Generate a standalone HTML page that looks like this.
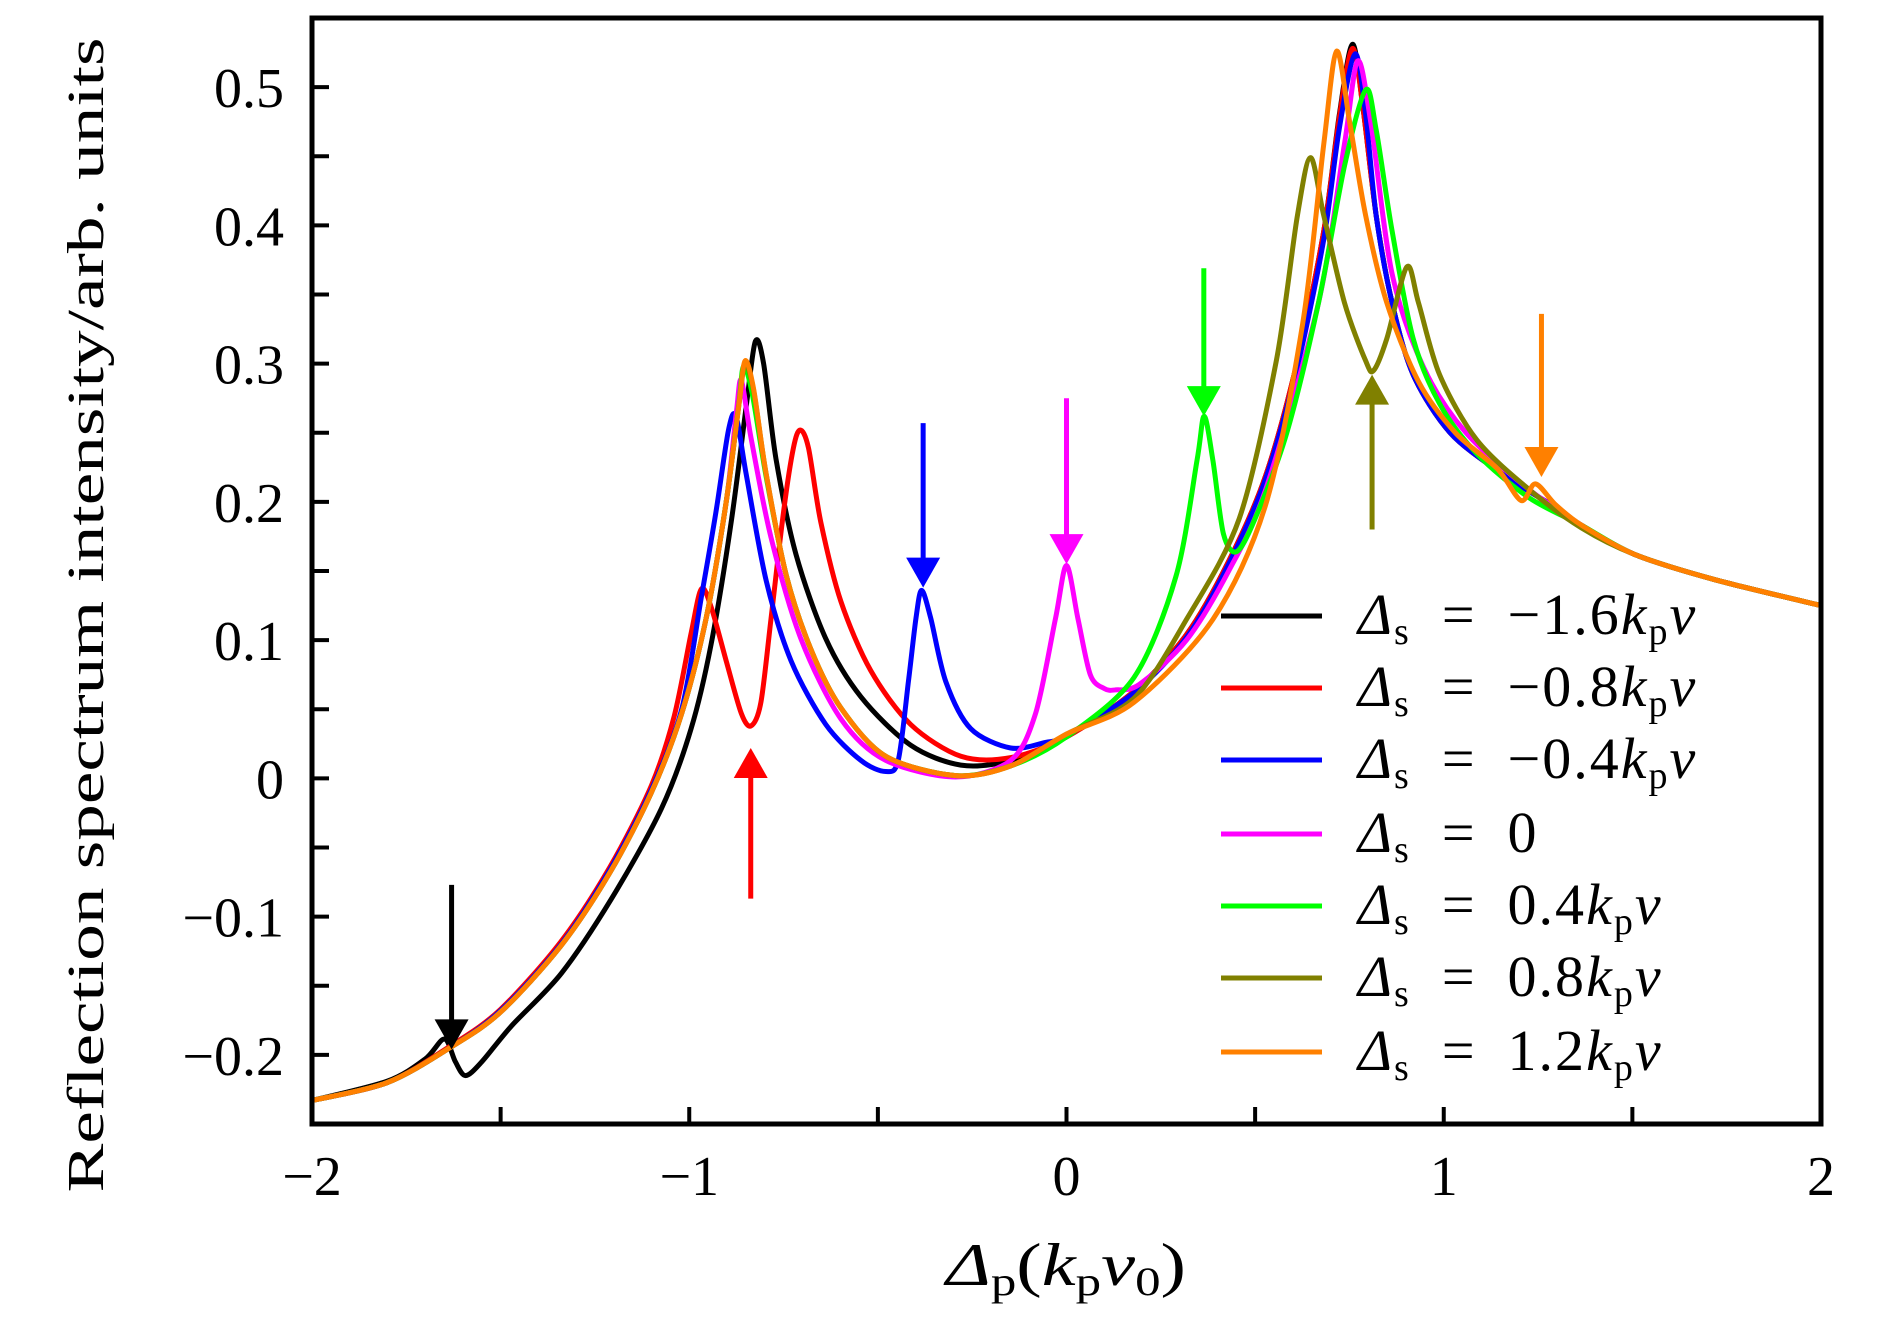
<!DOCTYPE html>
<html><head><meta charset="utf-8"><style>
html,body{margin:0;padding:0;background:#fff;}
svg{display:block;}
text{font-family:"Liberation Serif",serif;fill:#000;}
</style></head><body>
<svg id="chart" width="1890" height="1323" viewBox="0 0 1890 1323" xmlns="http://www.w3.org/2000/svg">
<rect x="0" y="0" width="1890" height="1323" fill="#fff"/>
<defs><clipPath id="clip"><rect x="312" y="18" width="1509" height="1106"/></clipPath></defs>
<g id="curves" clip-path="url(#clip)"></g>
<g id="arrows"></g>
<g id="axes"></g>
<g id="legend"></g>
</svg>
<script>
// ---- data ----
const xTicks = [-2,-1,0,1,2];
const xTickLabels = ["\u22122","\u22121","0","1","2"];
const yTicks = [0.5,0.4,0.3,0.2,0.1,0,-0.1,-0.2];
const yTickLabels = ["0.5","0.4","0.3","0.2","0.1","0","\u22120.1","\u22120.2"];

const blackX = [-2,-1.8,-1.7,-1.649,-1.62,-1.593,-1.55,-1.471,-1.339,-1.206,-1.074,-0.995,-0.942,-0.889,-0.849,-0.825,-0.803,-0.77,-0.717,-0.638,-0.545,-0.413,-0.28,-0.148,0,0.179,0.318,0.43,0.528,0.612,0.682,0.723,0.758,0.786,0.821,0.863,0.919,1.017,1.156,1.296,1.366,1.506,1.715,2];
const blackY = [-0.233,-0.219,-0.203,-0.1885,-0.205,-0.215,-0.205,-0.179,-0.141,-0.087,-0.022,0.036,0.097,0.185,0.269,0.316,0.300,0.231,0.162,0.101,0.059,0.024,0.0096,0.013,0.03,0.063,0.104,0.157,0.219,0.302,0.396,0.480,0.531,0.485,0.407,0.344,0.292,0.250,0.220,0.196,0.183,0.162,0.144,0.125];

const redX = [-2,-1.8,-1.63,-1.5,-1.34,-1.21,-1.1,-1.04,-0.995,-0.968,-0.942,-0.902,-0.862,-0.836,-0.81,-0.783,-0.75,-0.724,-0.706,-0.684,-0.651,-0.598,-0.519,-0.413,-0.28,-0.148,0,0.179,0.318,0.43,0.528,0.612,0.682,0.723,0.758,0.786,0.821,0.863,0.919,1.017,1.156,1.296,1.366,1.506,1.715,2];
const redY = [-0.233,-0.22,-0.193,-0.167,-0.118,-0.064,-0.005,0.045,0.105,0.137,0.124,0.085,0.047,0.038,0.055,0.116,0.193,0.239,0.252,0.239,0.185,0.128,0.078,0.039,0.016,0.015,0.03,0.063,0.104,0.157,0.219,0.302,0.396,0.478,0.528,0.485,0.407,0.344,0.292,0.25,0.22,0.196,0.183,0.162,0.144,0.125];

const blueX = [-2,-1.8,-1.63,-1.5,-1.34,-1.21,-1.1,-1.02,-0.968,-0.929,-0.896,-0.876,-0.849,-0.796,-0.73,-0.638,-0.545,-0.479,-0.446,-0.419,-0.399,-0.384,-0.36,-0.32,-0.254,-0.148,-0.056,0,0.179,0.318,0.43,0.528,0.612,0.682,0.723,0.765,0.793,0.821,0.863,0.919,1.017,1.156,1.296,1.366,1.506,1.715,2];
const blueY = [-0.233,-0.22,-0.194,-0.168,-0.12,-0.066,-0.008,0.05,0.131,0.193,0.252,0.262,0.22,0.143,0.085,0.039,0.013,0.005,0.013,0.07,0.116,0.136,0.116,0.07,0.036,0.022,0.026,0.031,0.062,0.102,0.155,0.217,0.298,0.39,0.47,0.524,0.48,0.407,0.344,0.292,0.25,0.22,0.196,0.183,0.162,0.144,0.125];

const magentaX = [-2,-1.8,-1.63,-1.5,-1.34,-1.21,-1.1,-1.02,-0.955,-0.902,-0.875,-0.862,-0.836,-0.783,-0.704,-0.598,-0.479,-0.294,-0.148,-0.082,-0.029,0,0.03,0.063,0.1,0.13,0.193,0.318,0.43,0.528,0.668,0.737,0.772,0.807,0.863,0.947,1.059,1.226,1.366,1.506,1.715,2];
const magentaY = [-0.233,-0.22,-0.194,-0.169,-0.121,-0.068,-0.01,0.047,0.116,0.2,0.265,0.288,0.246,0.174,0.101,0.043,0.013,0.001,0.013,0.047,0.116,0.154,0.116,0.075,0.065,0.064,0.068,0.1,0.15,0.209,0.344,0.459,0.519,0.474,0.365,0.297,0.25,0.209,0.183,0.162,0.144,0.125];

const greenX = [-2,-1.8,-1.63,-1.5,-1.34,-1.21,-1.1,-1.02,-0.955,-0.902,-0.869,-0.856,-0.833,-0.796,-0.743,-0.677,-0.598,-0.479,-0.294,-0.148,0,0.179,0.29,0.346,0.365,0.388,0.416,0.451,0.5,0.584,0.668,0.737,0.793,0.821,0.863,0.919,0.989,1.087,1.226,1.366,1.506,1.715,2];
const greenY = [-0.233,-0.22,-0.194,-0.169,-0.121,-0.068,-0.01,0.047,0.116,0.2,0.27,0.298,0.278,0.218,0.147,0.093,0.051,0.016,0.002,0.009,0.03,0.073,0.146,0.23,0.262,0.23,0.177,0.164,0.188,0.25,0.344,0.443,0.498,0.469,0.396,0.318,0.271,0.235,0.203,0.183,0.162,0.144,0.125];

const oliveX = [-2,-1.8,-1.63,-1.5,-1.34,-1.21,-1.1,-1.02,-0.955,-0.902,-0.869,-0.852,-0.829,-0.796,-0.743,-0.677,-0.598,-0.479,-0.294,-0.148,0,0.179,0.318,0.458,0.556,0.612,0.647,0.682,0.737,0.793,0.814,0.849,0.902,0.933,0.989,1.087,1.226,1.366,1.506,1.715,2];
const oliveY = [-0.233,-0.22,-0.194,-0.169,-0.121,-0.068,-0.01,0.047,0.116,0.2,0.269,0.3,0.28,0.22,0.147,0.093,0.051,0.016,0.002,0.009,0.032,0.058,0.115,0.188,0.302,0.407,0.449,0.407,0.344,0.302,0.295,0.318,0.37,0.344,0.292,0.245,0.209,0.181,0.162,0.144,0.125];

const orangeX = [-2,-1.8,-1.63,-1.5,-1.34,-1.21,-1.1,-1.02,-0.955,-0.902,-0.869,-0.852,-0.829,-0.796,-0.743,-0.677,-0.598,-0.479,-0.294,-0.148,0,0.179,0.388,0.528,0.626,0.682,0.716,0.751,0.793,0.849,0.933,1.031,1.142,1.205,1.243,1.296,1.366,1.506,1.715,2];
const orangeY = [-0.233,-0.22,-0.194,-0.169,-0.121,-0.068,-0.01,0.047,0.116,0.2,0.269,0.302,0.281,0.22,0.147,0.093,0.051,0.016,0.002,0.009,0.032,0.055,0.115,0.198,0.329,0.459,0.526,0.474,0.407,0.344,0.287,0.25,0.224,0.201,0.213,0.198,0.183,0.162,0.144,0.125];

// arrows: x, tail y, tip y
const arrowX = [-1.63,-0.837,-0.38,0,0.364,0.81,1.259];
const arrowTail = [-0.077,-0.087,0.257,0.275,0.369,0.18,0.336];
const arrowTip = [-0.196,0.022,0.138,0.155,0.262,0.292,0.218];

const legendLabels = ["\u22121.6","\u22120.8","\u22120.4","0","0.4","0.8","1.2"];

// ---- layout ----
const L=312,R=1821,T=18,B=1124;
const X0=-2,X1=2,Y0=-0.25,Y1=0.55;
function sx(v){return L+(v-X0)/(X1-X0)*(R-L);}
function sy(v){return B-(v-Y0)/(Y1-Y0)*(B-T);}
const NS="http://www.w3.org/2000/svg";
function mk(tag,attrs,parent){const e=document.createElementNS(NS,tag);for(const k in attrs)e.setAttribute(k,attrs[k]);parent.appendChild(e);return e;}

function pathFrom(xs,ys){
  const p=xs.map((x,i)=>[sx(x),sy(ys[i])]);
  let d="M"+p[0][0].toFixed(1)+","+p[0][1].toFixed(1);
  for(let i=0;i<p.length-1;i++){
    const p0=p[i-1]||p[i],p1=p[i],p2=p[i+1],p3=p[i+2]||p[i+1];
    const t=1/6*0.9;
    const c1=[p1[0]+(p2[0]-p0[0])*t,p1[1]+(p2[1]-p0[1])*t];
    const c2=[p2[0]-(p3[0]-p1[0])*t,p2[1]-(p3[1]-p1[1])*t];
    d+=" C"+c1[0].toFixed(1)+","+c1[1].toFixed(1)+" "+c2[0].toFixed(1)+","+c2[1].toFixed(1)+" "+p2[0].toFixed(1)+","+p2[1].toFixed(1);
  }
  return d;
}

const colors=["#000000","#ff0000","#0000ff","#ff00ff","#00ff00","#808000","#ff8000"];
const seriesNames=["ds-minus-1-6","ds-minus-0-8","ds-minus-0-4","ds-0","ds-0-4","ds-0-8","ds-1-2"];
const seriesX=[blackX,redX,blueX,magentaX,greenX,oliveX,orangeX];
const seriesY=[blackY,redY,blueY,magentaY,greenY,oliveY,orangeY];

const cg=document.getElementById('curves');
for(let s=0;s<7;s++){
  const el=mk('path',{d:pathFrom(seriesX[s],seriesY[s]),fill:'none',stroke:colors[s],'stroke-width':5,'stroke-linejoin':'round'},cg);
  
  
}

// arrows
const ag=document.getElementById('arrows');
for(let i=0;i<arrowX.length;i++){
  const x=sx(arrowX[i]),ty=sy(arrowTail[i]),py=sy(arrowTip[i]);
  const dir=py>ty?1:-1;
  const g=mk('g',{},ag);
  
  
  mk('line',{x1:x,y1:ty,x2:x,y2:py-dir*20,stroke:colors[i],'stroke-width':5},g);
  mk('polygon',{points:(x-17)+","+(py-dir*30)+" "+(x+17)+","+(py-dir*30)+" "+x+","+py,fill:colors[i]},g);
}

// axes
const ax=document.getElementById('axes');
for(let v=-2;v<=2.001;v+=0.5){
  const t=mk('line',{x1:sx(v),y1:B,x2:sx(v),y2:B-17,stroke:'#000','stroke-width':4},ax);
  
  
}
for(let k=-5;k<=11;k++){
  const v=k*0.05;
  const t=mk('line',{x1:L,y1:sy(v),x2:L+17,y2:sy(v),stroke:'#000','stroke-width':4},ax);
  
  
}
xTicks.forEach((v,i)=>{
  const t=mk('text',{x:sx(v),y:1195,'text-anchor':'middle','font-size':56},ax);
  t.textContent=xTickLabels[i];
  
  
});
yTicks.forEach((v,i)=>{
  const t=mk('text',{x:284,y:sy(v)+20,'text-anchor':'end','font-size':56},ax);
  t.textContent=yTickLabels[i];
  
  
});
const frame=mk('rect',{x:L,y:T,width:R-L,height:B-T,fill:'none',stroke:'#000','stroke-width':5},ax);



const yt=mk('text',{x:0,y:0,'font-size':52,transform:'translate(103,615) rotate(-90)','text-anchor':'middle',textLength:1155,lengthAdjust:'spacingAndGlyphs'},ax);
yt.textContent='Reflection spectrum intensity/arb. units';



const xt=mk('text',{x:946,y:1285,'font-size':60,textLength:240,lengthAdjust:'spacingAndGlyphs'},ax);
xt.innerHTML='<tspan font-style="italic">Δ</tspan><tspan font-size="40" dy="10">p</tspan><tspan dy="-10">(</tspan><tspan font-style="italic">k</tspan><tspan font-size="40" dy="10">p</tspan><tspan font-style="italic" dy="-10">v</tspan><tspan font-size="40" dy="10">0</tspan><tspan dy="-10">)</tspan>';



// legend
const lg=document.getElementById('legend');
const rowY=[616,688,760,834,906,978,1052];
for(let i=0;i<7;i++){
  const g=mk('g',{},lg);
  
  
  mk('line',{x1:1221,y1:rowY[i],x2:1322,y2:rowY[i],stroke:colors[i],'stroke-width':5},g);
  const t=mk('text',{x:1358,y:rowY[i]+18,'font-size':58,'letter-spacing':2},g);
  let s='<tspan font-style="italic">Δ</tspan><tspan font-size="38" dy="10">s</tspan><tspan dy="-10">\u2002=\u2002'+legendLabels[i]+'</tspan>';
  if(legendLabels[i]!=="0") s+='<tspan font-style="italic">k</tspan><tspan font-size="38" dy="10">p</tspan><tspan font-style="italic" dy="-10">v</tspan>';
  t.innerHTML=s;
}
</script>
</body></html>
